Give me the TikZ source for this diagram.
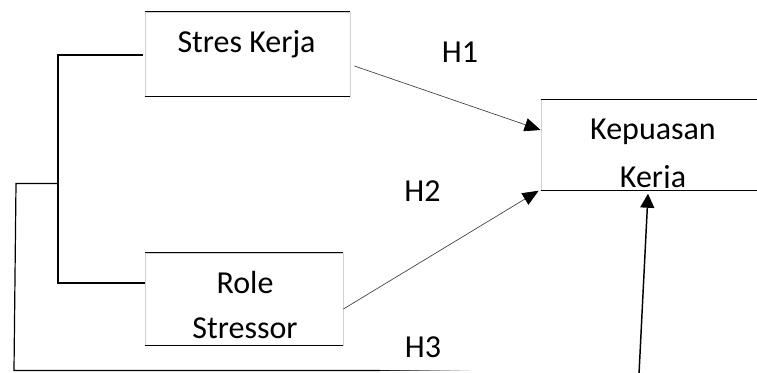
\documentclass[tikz,border=0pt]{standalone}
\usepackage{fontspec}
\setmainfont{Carlito}
\usetikzlibrary{positioning,arrows.meta}

\tikzset{
  box/.style={draw=gray!35, line width=0.6pt, inner sep=0pt},
  lbl/.style={font=\fontsize{24}{33.75}\selectfont, align=center, inner sep=0pt, anchor=base},
  link/.style={line width=0.9pt},
  hyp/.style={draw=black!75, line width=0.5pt, -{Triangle[length=12pt,width=10pt,color=black]}},
}

\begin{document}
\begin{tikzpicture}[x=0.75pt, y=-0.75pt]
    \clip (0,0) rectangle (757,372);
    \fill[white] (0,0) rectangle (757,372);

    % boxes
    \node[box, minimum width=153.75pt, minimum height=63pt] (sk) at (247.5,54) {};
    \node[box, minimum width=148.5pt, minimum height=69pt] (rs) at (244,299) {};
    \node[box, minimum width=172.5pt, minimum height=68pt] (kk) at (656,145) {};
    \foreach \n in {sk, rs, kk} {
        \draw[line width=0.75pt] (\n.north west) -- (\n.north east);
        \draw[line width=0.75pt] (\n.south west) -- (\n.south east);
    }

    % texts (base = last line)
    \node[lbl] (skt) at (246.5,52.3) {Stres Kerja};
    \node[lbl] (rst) at (245,338.3) {Role\\Stressor};
    \begin{scope}
        \clip (kk.north west) rectangle ([yshift=2.2pt]kk.south east);
        \node[lbl, font=\fontsize{24}{36}\selectfont] (kkt) at (653,187.6) {Kepuasan\\Kerja};
    \end{scope}
    \node[lbl] (h1) at (460,62.3) {H1};
    \node[lbl] (h2) at (422.5,201.7) {H2};
    \node[lbl] (h3) at (423,357.3) {H3};

    % bracket
    \coordinate (bt) at (58,55);
    \coordinate (bb) at (58,283);
    \coordinate (bm) at (58,183.5);
    \draw[link] ([xshift=-1.5pt]sk.west |- bt) -- (bt) -- (bb) -- (rs.west |- bb);

    % outer line
    \coordinate (oc) at (16,183.5);
    \coordinate (ob) at (14,370.5);
    \coordinate (oe) at (380,370.5);
    \draw[link] (bm) -- (oc) -- (ob) -- (oe);
    \foreach \i in {0, 1, ..., 8} {
        \pgfmathsetmacro{\shadeval}{90-\i*10}
        \draw[link, black!\shadeval] (380+\i*10, 370.5) -- (390+\i*10, 370.5);
    }

    % hypotheses
    \draw[hyp] ([shift={(4,12)}]sk.east) -- ([shift={(0,-15)}]kk.west);
    \draw[hyp] ([shift={(0,10)}]rs.east) -- ([shift={(-2,0)}]kk.south west);
    \coordinate (h3s) at (639,374);
    \draw[line width=1.1pt, -{Triangle[length=10.5pt,width=10.5pt]}] (h3s) -- ([shift={(-8,3)}]kk.south);
\end{tikzpicture}
\end{document}
